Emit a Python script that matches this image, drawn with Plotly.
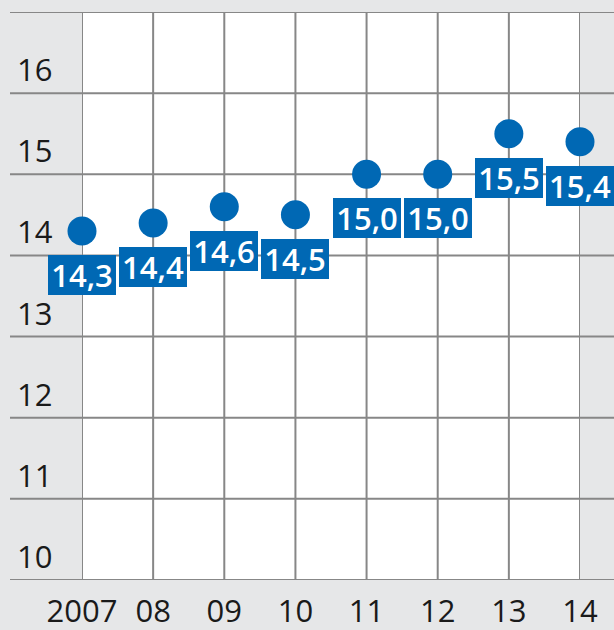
import plotly.graph_objects as go

years = [2007, 2008, 2009, 2010, 2011, 2012, 2013, 2014]
year_labels = ["2007", "08", "09", "10", "11", "12", "13", "14"]
values = [14.3, 14.4, 14.6, 14.5, 15.0, 15.0, 15.5, 15.4]
y_ticks = [10, 11, 12, 13, 14, 15, 16, 17]
y_tick_labels = ["10", "11", "12", "13", "14", "15", "16", ""]

BLUE = "#0068b4"
GRID = "#878787"
BG = "#e6e7e8"
TXT = "#1a1a1a"
FONT = "Open Sans"

W, H = 614, 630
ML, MR, MT, MB = 82, 34, 12, 50
plot_w = W - ML - MR

fig = go.Figure()

fig.add_trace(go.Scatter(
    x=years, y=values, mode="markers", cliponaxis=False,
    marker=dict(size=29, color=BLUE, line=dict(width=0)),
    hoverinfo="skip", showlegend=False,
))

shapes = []
for yv in y_ticks:
    shapes.append(dict(type="line", xref="paper", yref="y",
                       x0=(10 - ML) / plot_w, x1=(W - ML) / plot_w, y0=yv, y1=yv,
                       line=dict(color=GRID, width=2), layer="below"))
for xv in years:
    shapes.append(dict(type="line", xref="x", yref="paper",
                       x0=xv, x1=xv, y0=0, y1=1,
                       line=dict(color=GRID, width=2), layer="below"))

annotations = []
for yv, lab in zip(y_ticks, y_tick_labels):
    if not lab:
        continue
    annotations.append(dict(x=(15 - ML) / plot_w, xref="paper", y=yv, yref="y",
                            text=lab, showarrow=False, xanchor="left", yanchor="bottom",
                            yshift=1, font=dict(family=FONT, size=31, color=TXT)))
for xv, v in zip(years, values):
    annotations.append(dict(x=xv, y=v, xref="x", yref="y",
                            text=f"{v:.1f}".replace(".", ","), showarrow=False,
                            xanchor="center", yanchor="middle", yshift=-44,
                            width=64, height=36, borderpad=2, borderwidth=0,
                            bgcolor=BLUE,
                            font=dict(family=FONT, size=31, color="white", weight=600)))

fig.update_layout(
    width=W, height=H,
    margin=dict(l=ML, r=MR, t=MT, b=MB, pad=0, autoexpand=False),
    paper_bgcolor=BG, plot_bgcolor="white",
    shapes=shapes, annotations=annotations,
    xaxis=dict(range=[2007, 2014], tickvals=years, ticktext=year_labels,
               showgrid=False, zeroline=False, showline=False, ticks="",
               ticklabelstandoff=10, automargin=False,
               tickfont=dict(family=FONT, size=31, color=TXT), fixedrange=True),
    yaxis=dict(range=[10, 17], showgrid=False, zeroline=False, showline=False,
               showticklabels=False, ticks="", fixedrange=True, automargin=False),
    showlegend=False,
)

fig.write_html("out.html", config={"displayModeBar": False})
